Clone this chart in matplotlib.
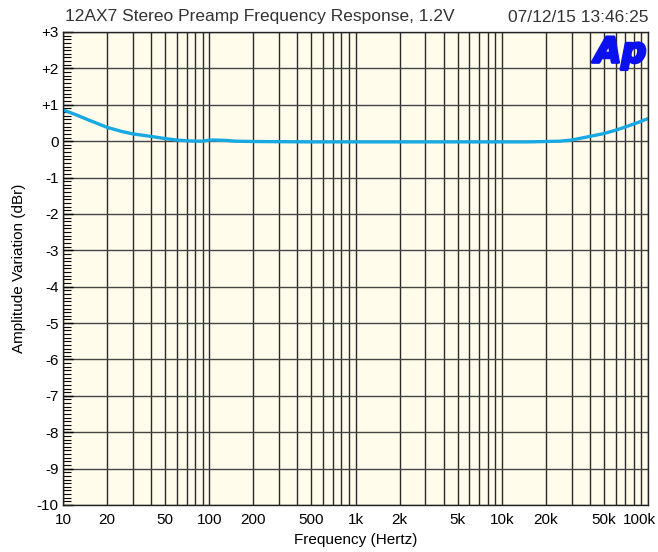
import numpy as np
import matplotlib
matplotlib.use("Agg")
import matplotlib.pyplot as plt
import matplotlib.patheffects as pe
import matplotlib.transforms as mtransforms
from matplotlib.ticker import FixedLocator, MultipleLocator, NullFormatter

plt.rcParams['font.family'] = ['Liberation Sans', 'DejaVu Sans']

# Measured response (Hz, dBr)
freq_hz = [10, 12, 15, 20, 25, 30, 40, 50, 60, 70, 80, 90, 100, 110, 130,
           150, 200, 500, 1000, 2000, 5000, 10000, 15000, 20000, 25000,
           30000, 40000, 50000, 60000, 70000, 85000, 100000]
level_dbr = [0.86, 0.74, 0.58, 0.38, 0.27, 0.20, 0.13, 0.07, 0.03, 0.01, 0.0,
             0.0, 0.03, 0.03, 0.02, 0.0, -0.01, -0.02, -0.02, -0.02, -0.02,
             -0.02, -0.02, -0.01, 0.0, 0.03, 0.13, 0.21, 0.30, 0.39, 0.51, 0.62]

x_ticks = [10, 20, 50, 100, 200, 500, 1000, 2000, 5000, 10000, 20000, 50000, 100000]
x_labels = ['10', '20', '50', '100', '200', '500', '1k', '2k', '5k', '10k', '20k', '50k', '100k']
y_ticks = list(range(-10, 4))
y_labels = ['+%d' % v if v > 0 else '%d' % v for v in y_ticks]

title = "12AX7 Stereo Preamp Frequency Response, 1.2V"
stamp = "07/12/15 13:46:25"

fig = plt.figure(figsize=(6.58, 5.52), dpi=100)
ax = fig.add_axes([63 / 658, 1 - 505 / 552, 585 / 658, 473 / 552])
ax.set_facecolor('#fffcec')

ax.set_xscale('log')
ax.set_xlim(10, 100000)
ax.set_ylim(-10, 3)

# grid: every decade subdivision and every dB
grid_x = [m * 10 ** d for d in range(1, 5) for m in range(1, 10)] + [100000]
for gx in grid_x:
    ax.axvline(gx, color='#2a2a2a', lw=1.0, zorder=1)
for gy in y_ticks:
    ax.axhline(gy, color='#444444', lw=1.0, zorder=1)

ax.plot(freq_hz, level_dbr, color='#18a8e2', lw=2.4, zorder=3,
        solid_capstyle='round', solid_joinstyle='round')

ax.xaxis.set_major_locator(FixedLocator(x_ticks))
ax.xaxis.set_minor_locator(FixedLocator([]))
ax.set_xticklabels(x_labels)
ax.xaxis.set_minor_formatter(NullFormatter())
ax.tick_params(axis='x', which='both', length=0, pad=6, labelsize=11)

# pull the last frequency label inside the figure edge
last = ax.get_xticklabels()[-1]
last.set_transform(last.get_transform() +
                   mtransforms.ScaledTranslation(-9 / 100, 0, fig.dpi_scale_trans))

ax.yaxis.set_major_locator(FixedLocator(y_ticks))
ax.set_yticklabels(y_labels)
ax.yaxis.set_minor_locator(MultipleLocator(0.1))
ax.tick_params(axis='y', which='major', direction='in', length=7, width=1,
               labelsize=11, pad=3, left=True, right=False)
ax.tick_params(axis='y', which='minor', direction='in', length=6, width=0.8,
               left=True, right=False)

for s in ax.spines.values():
    s.set_color('#222222')
    s.set_linewidth(1.0)
    s.set_zorder(4)

ax.set_xlabel('Frequency (Hertz)', fontsize=11, labelpad=4)
ax.set_ylabel('Amplitude Variation (dBr)', fontsize=11, labelpad=8)

fig.text(65 / 658, 1 - 17 / 552, title, fontsize=12.5, color='#333333',
         ha='left', va='center')
fig.text(648 / 658, 1 - 17 / 552, stamp, fontsize=12.5, color='#333333',
         ha='right', va='center')

logo = ax.text(0.997, 0.993, 'Ap', transform=ax.transAxes, ha='right', va='top',
               fontsize=25, fontweight='heavy', style='italic', color='#0a10f0',
               family=['DejaVu Sans'], zorder=5)
logo.set_path_effects([pe.withStroke(linewidth=2.2, foreground='#0a10f0')])

fig.savefig('out.png', dpi=100)
